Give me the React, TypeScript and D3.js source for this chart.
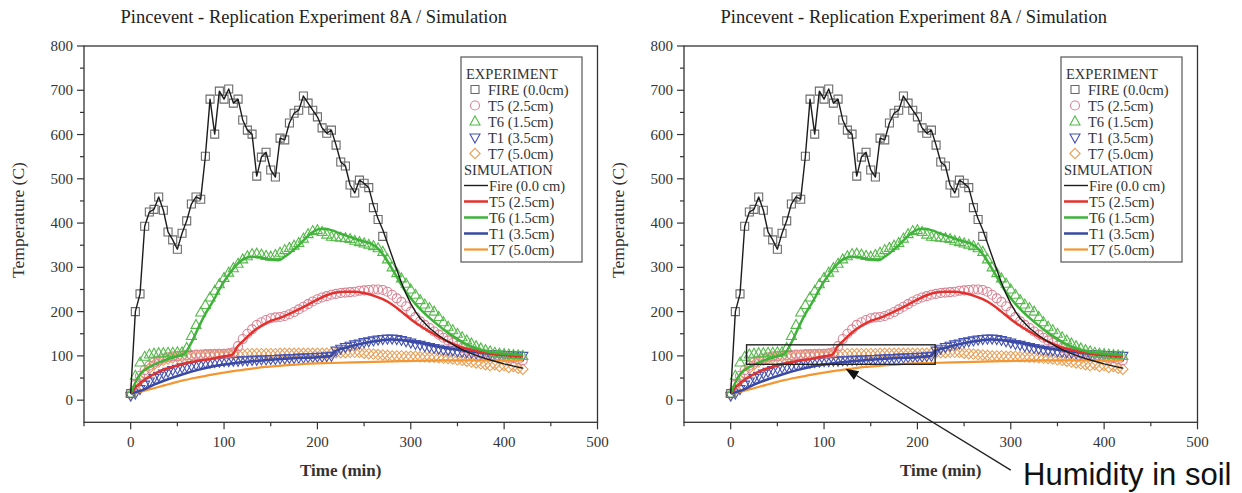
import React from "react";
import * as d3 from "d3";

const WIDTH = 1242;
const HEIGHT = 493;

const chartTitle = "Pincevent - Replication Experiment 8A / Simulation";
const xLabel = "Time (min)";
const yLabel = "Temperature (C)";
const annotationText = "Humidity in soil";
const xMajorTicks = [0, 100, 200, 300, 400, 500];
const xMinorTicks = [-50, 50, 150, 250, 350, 450];
const yMajorTicks = [0, 100, 200, 300, 400, 500, 600, 700, 800];
const yMinorTicks = [50, 150, 250, 350, 450, 550, 650, 750];
const xDomain = [-50, 500];
const yDomain = [-50, 800];

// experiment sampling times (min)
const expTimes = d3.range(0, 425, 5);

const fireExp = [
  15, 200, 240, 393, 425, 431, 459, 429, 380, 362,
  341, 377, 405, 443, 459, 454, 551, 680, 601, 698,
  680, 703, 671, 680, 633, 610, 601, 506, 549, 560,
  520, 504, 592, 588, 626, 648, 655, 687, 671, 655,
  640, 615, 603, 610, 576, 538, 529, 486, 468, 497,
  490, 480, 435, 408, 370,
];
const t5Exp = [
  15, 35, 55, 68, 78, 85, 90, 94, 97, 99,
  100, 101, 102, 102, 103, 103, 104, 104, 104, 105,
  105, 106, 108, 122, 138, 150, 160, 170, 176, 181,
  185, 187, 188, 190, 194, 199, 205, 211, 217, 223,
  228, 232, 235, 238, 240, 242, 243, 244, 245, 247,
  248, 249, 250, 250, 249, 245, 238, 230, 222, 212,
  200, 188, 178, 170, 163, 155, 148, 141, 135, 129,
  123, 118, 114, 110, 107, 105, 103, 101, 100, 99,
  98, 96, 95, 93, 90,
];
const t6Exp = [
  15, 55, 85, 98, 103, 105, 106, 106, 107, 107,
  108, 108, 118, 145, 170, 198, 215, 232, 247, 262,
  276, 288, 298, 308, 318, 325, 330, 331, 329, 326,
  324, 328, 333, 339, 344, 349, 355, 365, 375, 382,
  384, 380, 374, 369, 368, 367, 366, 364, 360, 357,
  354, 351, 348, 343, 335, 318, 300, 287, 275, 263,
  250, 238, 226, 216, 208, 200, 188, 176, 166, 158,
  150, 142, 135, 128, 122, 117, 113, 110, 107, 105,
  104, 103, 102, 101, 100,
];
const t1Exp = [
  10, 15, 25, 35, 42, 50, 55, 60, 64, 68,
  71, 74, 76, 78, 80, 82, 84, 85, 86, 87,
  88, 88, 89, 89, 90, 90, 91, 91, 92, 92,
  93, 93, 94, 94, 95, 95, 96, 96, 97, 97,
  98, 98, 99, 100, 112, 116, 120, 123, 126, 128,
  131, 133, 135, 137, 138, 139, 139, 138, 136, 133,
  130, 127, 125, 122, 120, 118, 116, 114, 113, 112,
  110, 109, 108, 107, 106, 105, 104, 104, 103, 103,
  102, 102, 101, 101, 100,
];
const t7Exp = [
  12, 25, 45, 60, 72, 80, 86, 90, 93, 95,
  97, 98, 99, 100, 101, 101, 102, 102, 103, 103,
  103, 104, 104, 104, 104, 105, 105, 105, 105, 105,
  105, 105, 106, 106, 106, 106, 106, 106, 106, 106,
  106, 106, 106, 106, 107, 107, 107, 108, 108, 108,
  106, 105, 104, 103, 102, 101, 100, 100, 100, 99,
  99, 99, 98, 98, 97, 97, 96, 95, 94, 93,
  91, 90, 88, 86, 84, 82, 80, 78, 80, 76,
  78, 74, 76, 72, 70,
];

// simulation curves: [time, temperature]
const fireSimTail: [number, number][] = [
  [260, 440], [265, 410], [270, 385], [275, 355], [280, 325], [285, 295],
  [290, 265], [295, 240], [300, 218], [305, 200], [310, 185], [320, 163],
  [330, 146], [340, 132], [350, 120], [360, 109], [370, 101], [380, 94],
  [390, 88], [400, 82], [410, 77], [420, 72],
];
const t5Sim: [number, number][] = [
  [0, 15], [5, 28], [10, 38], [20, 53], [30, 64], [40, 72], [50, 78], [60, 84],
  [70, 88], [80, 91], [90, 95], [100, 99], [108, 102], [110, 105], [113, 117],
  [120, 133], [130, 153], [140, 168], [150, 179], [160, 186], [170, 195],
  [180, 205], [190, 216], [200, 227], [210, 237], [220, 243], [230, 245],
  [240, 245], [250, 242], [260, 236], [270, 228], [280, 216], [290, 200],
  [300, 183], [310, 168], [320, 155], [330, 143], [340, 132], [350, 123],
  [360, 116], [370, 111], [380, 107], [390, 104], [400, 102], [410, 100], [420, 99],
];
const t6Sim: [number, number][] = [
  [0, 15], [5, 40], [10, 58], [20, 75], [30, 85], [40, 93], [50, 99], [58, 106],
  [65, 130], [73, 166], [80, 195], [87, 219], [95, 250], [101, 271], [108, 292],
  [115, 309], [122, 320], [130, 324], [137, 323], [144, 320], [151, 317],
  [158, 316], [165, 324], [172, 335], [180, 350], [187, 365], [194, 378],
  [201, 386], [208, 387], [215, 384], [225, 376], [236, 368], [247, 360],
  [258, 353], [266, 340], [272, 324], [279, 300], [286, 275], [293, 250],
  [300, 230], [308, 210], [318, 190], [329, 170], [340, 152], [350, 138],
  [360, 126], [370, 117], [380, 111], [390, 107], [400, 105], [410, 103], [420, 102],
];
const t1Sim: [number, number][] = [
  [0, 15], [12, 22], [25, 35], [37, 45], [55, 58], [73, 69], [90, 77], [108, 83],
  [125, 87], [144, 90], [162, 93], [180, 95], [200, 97], [212, 99], [215, 100],
  [218, 110], [233, 120], [251, 129], [265, 134], [279, 137], [293, 135],
  [307, 130], [321, 124], [336, 118], [350, 114], [365, 110], [380, 106],
  [400, 103], [420, 101],
];
const t7Sim: [number, number][] = [
  [0, 15], [12, 20], [25, 27], [37, 34], [55, 44], [73, 52], [90, 59], [108, 65],
  [126, 70], [144, 75], [162, 78], [180, 81], [215, 84], [251, 86], [290, 88],
  [336, 90], [380, 90], [420, 90],
];

// annotation (right panel)
const humidityBox = { t0: 17, t1: 219, v0: 81, v1: 125 };
const humidityArrowFrom: [number, number] = [300, -158];
const humidityArrowTo: [number, number] = [123, 71];

type Shape = "square" | "circle" | "triUp" | "triDown" | "diamond";

const expSeries: { label: string; values: number[]; shape: Shape; color: string }[] = [
  { label: "FIRE (0.0cm)", values: fireExp, shape: "square", color: "#6a6a6a" },
  { label: "T5 (2.5cm)", values: t5Exp, shape: "circle", color: "#d98394" },
  { label: "T6 (1.5cm)", values: t6Exp, shape: "triUp", color: "#55ba4a" },
  { label: "T1 (3.5cm)", values: t1Exp, shape: "triDown", color: "#4452b0" },
  { label: "T7 (5.0cm)", values: t7Exp, shape: "diamond", color: "#e6a25c" },
];

const fireSim: [number, number][] = expTimes
  .slice(0, 52)
  .map((t, i) => [t, fireExp[i]] as [number, number])
  .concat(fireSimTail);

const simSeries: { label: string; data: [number, number][]; color: string; width: number; smooth: boolean }[] = [
  { label: "Fire (0.0 cm)", data: fireSim, color: "#1c1c1c", width: 1.4, smooth: false },
  { label: "T5 (2.5cm)", data: t5Sim, color: "#e3312d", width: 2.5, smooth: true },
  { label: "T6 (1.5cm)", data: t6Sim, color: "#3fb23a", width: 2.5, smooth: true },
  { label: "T1 (3.5cm)", data: t1Sim, color: "#3848a3", width: 2.5, smooth: true },
  { label: "T7 (5.0cm)", data: t7Sim, color: "#f49631", width: 2.2, smooth: true },
];

const FONT = "'Liberation Serif', 'Times New Roman', serif";

function Marker({ shape, x, y, color }: { shape: Shape; x: number; y: number; color: string }) {
  const common = { fill: "none", stroke: color, strokeWidth: 1.1 };
  if (shape === "circle") return <circle cx={x} cy={y} r={4.5} {...common} />;
  let d = "";
  if (shape === "square") d = "M-4,-4h8v8h-8Z";
  else if (shape === "triUp") d = "M0,-5.5L5,3.5L-5,3.5Z";
  else if (shape === "triDown") d = "M0,5.5L5,-3.5L-5,-3.5Z";
  else d = "M0,-5.2L5.2,0L0,5.2L-5.2,0Z";
  return <path d={d} transform={`translate(${x},${y})`} {...common} />;
}

function Panel({ ox, annotate }: { ox: number; annotate: boolean }) {
  const left = 84 + ox;
  const right = 597.5 + ox;
  const top = 46;
  const bottom = 422.3;
  const x = d3.scaleLinear().domain(xDomain).range([left, right]);
  const y = d3.scaleLinear().domain(yDomain).range([bottom, top]);
  const lineLinear = d3.line<[number, number]>().x((d) => x(d[0])).y((d) => y(d[1]));
  const lineSmooth = d3
    .line<[number, number]>()
    .x((d) => x(d[0]))
    .y((d) => y(d[1]))
    .curve(d3.curveMonotoneX);

  const drawOrder = [4, 3, 1, 2, 0];
  const simOrder = [4, 3, 1, 2, 0];

  const lx = 461 + ox;
  const ly = 57;
  const rowY = (i: number) => 73.5 + i * 16;

  let annotation = null;
  if (annotate) {
    const ax0 = x(humidityArrowFrom[0]);
    const ay0 = y(humidityArrowFrom[1]);
    const ax1 = x(humidityArrowTo[0]);
    const ay1 = y(humidityArrowTo[1]);
    const dx = ax1 - ax0;
    const dy = ay1 - ay0;
    const len = Math.hypot(dx, dy);
    const ux = dx / len;
    const uy = dy / len;
    const hl = 13;
    const hw = 5;
    const bx = ax1 - ux * hl;
    const by = ay1 - uy * hl;
    const head = `M${ax1},${ay1}L${bx - uy * hw},${by + ux * hw}L${bx + uy * hw},${by - ux * hw}Z`;
    annotation = (
      <g>
        <rect
          x={x(humidityBox.t0)}
          y={y(humidityBox.v1)}
          width={x(humidityBox.t1) - x(humidityBox.t0)}
          height={y(humidityBox.v0) - y(humidityBox.v1)}
          fill="none"
          stroke="#222"
          strokeWidth={1.4}
        />
        <line x1={ax0} y1={ay0} x2={bx} y2={by} stroke="#222" strokeWidth={1.3} />
        <path d={head} fill="#111" />
        <text
          x={1023}
          y={485}
          fontFamily="'Liberation Sans', Arial, sans-serif"
          fontSize={31}
          fill="#111"
        >
          {annotationText}
        </text>
      </g>
    );
  }

  return (
    <g>
      {/* title */}
      <text x={(left + right) / 2 - 27} y={23} textAnchor="middle" fontFamily={FONT} fontSize={18.5} fill="#222">
        {chartTitle}
      </text>

      {/* experiment markers */}
      {drawOrder.map((si) => {
        const s = expSeries[si];
        return (
          <g key={"e" + si}>
            {s.values.map((v, i) => (
              <Marker key={i} shape={s.shape} x={x(expTimes[i])} y={y(v)} color={s.color} />
            ))}
          </g>
        );
      })}

      {/* simulation lines */}
      {simOrder.map((si) => {
        const s = simSeries[si];
        const gen = s.smooth ? lineSmooth : lineLinear;
        return (
          <path
            key={"s" + si}
            d={gen(s.data) || ""}
            fill="none"
            stroke={s.color}
            strokeWidth={s.width}
            strokeLinejoin="round"
          />
        );
      })}

      {/* frame */}
      <rect x={left} y={top} width={right - left} height={bottom - top} fill="none" stroke="#333" strokeWidth={1.3} />

      {/* y ticks */}
      {yMajorTicks.map((v) => (
        <g key={"ym" + v}>
          <line x1={left - 7} x2={left} y1={y(v)} y2={y(v)} stroke="#333" strokeWidth={1.2} />
          <text x={left - 11} y={y(v) + 5} textAnchor="end" fontFamily={FONT} fontSize={15} fill="#333">
            {v}
          </text>
        </g>
      ))}
      {yMinorTicks.map((v) => (
        <line key={"yn" + v} x1={left - 4} x2={left} y1={y(v)} y2={y(v)} stroke="#333" strokeWidth={1.2} />
      ))}

      {/* x ticks */}
      {xMajorTicks.map((v) => (
        <g key={"xm" + v}>
          <line x1={x(v)} x2={x(v)} y1={bottom} y2={bottom + 7} stroke="#333" strokeWidth={1.2} />
          <text x={x(v)} y={bottom + 25} textAnchor="middle" fontFamily={FONT} fontSize={15} fill="#333">
            {v}
          </text>
        </g>
      ))}
      {xMinorTicks.map((v) => (
        <line key={"xn" + v} x1={x(v)} x2={x(v)} y1={bottom} y2={bottom + 4} stroke="#333" strokeWidth={1.2} />
      ))}

      {/* axis titles */}
      <text
        x={(left + right) / 2}
        y={476}
        textAnchor="middle"
        fontFamily={FONT}
        fontWeight="bold"
        fontSize={17}
        fill="#333"
      >
        {xLabel}
      </text>
      <text
        transform={`translate(${ox + 24},${220}) rotate(-90)`}
        textAnchor="middle"
        fontFamily={FONT}
        fontSize={17.5}
        fill="#333"
      >
        {yLabel}
      </text>

      {/* legend */}
      <rect x={lx} y={ly} width={121} height={205} fill="#fff" stroke="#555" strokeWidth={1.2} />
      <text x={lx + 5} y={rowY(0) + 5} fontFamily={FONT} fontSize={14.5} fill="#333">
        EXPERIMENT
      </text>
      {expSeries.map((s, i) => (
        <g key={"le" + i}>
          <Marker shape={s.shape} x={lx + 14} y={rowY(i + 1)} color={s.color} />
          <text x={lx + 27} y={rowY(i + 1) + 5} fontFamily={FONT} fontSize={14.5} fill="#333">
            {s.label}
          </text>
        </g>
      ))}
      <text x={lx + 3} y={rowY(6) + 5} fontFamily={FONT} fontSize={14.5} fill="#333">
        SIMULATION
      </text>
      {simSeries.map((s, i) => (
        <g key={"ls" + i}>
          <line
            x1={lx + 3}
            x2={lx + 27}
            y1={rowY(i + 7)}
            y2={rowY(i + 7)}
            stroke={s.color}
            strokeWidth={s.width}
          />
          <text x={lx + 28} y={rowY(i + 7) + 5} fontFamily={FONT} fontSize={14.5} fill="#333">
            {s.label}
          </text>
        </g>
      ))}

      {annotation}
    </g>
  );
}

export default function App() {
  return (
    <div style={{ position: "absolute", left: 0, top: 0 }}>
      <svg width={WIDTH} height={HEIGHT} viewBox={`0 0 ${WIDTH} ${HEIGHT}`} style={{ display: "block", background: "#fff" }}>
        <rect x={0} y={0} width={WIDTH} height={HEIGHT} fill="#fff" />
        <Panel ox={0} annotate={false} />
        <Panel ox={600} annotate={true} />
      </svg>
    </div>
  );
}
